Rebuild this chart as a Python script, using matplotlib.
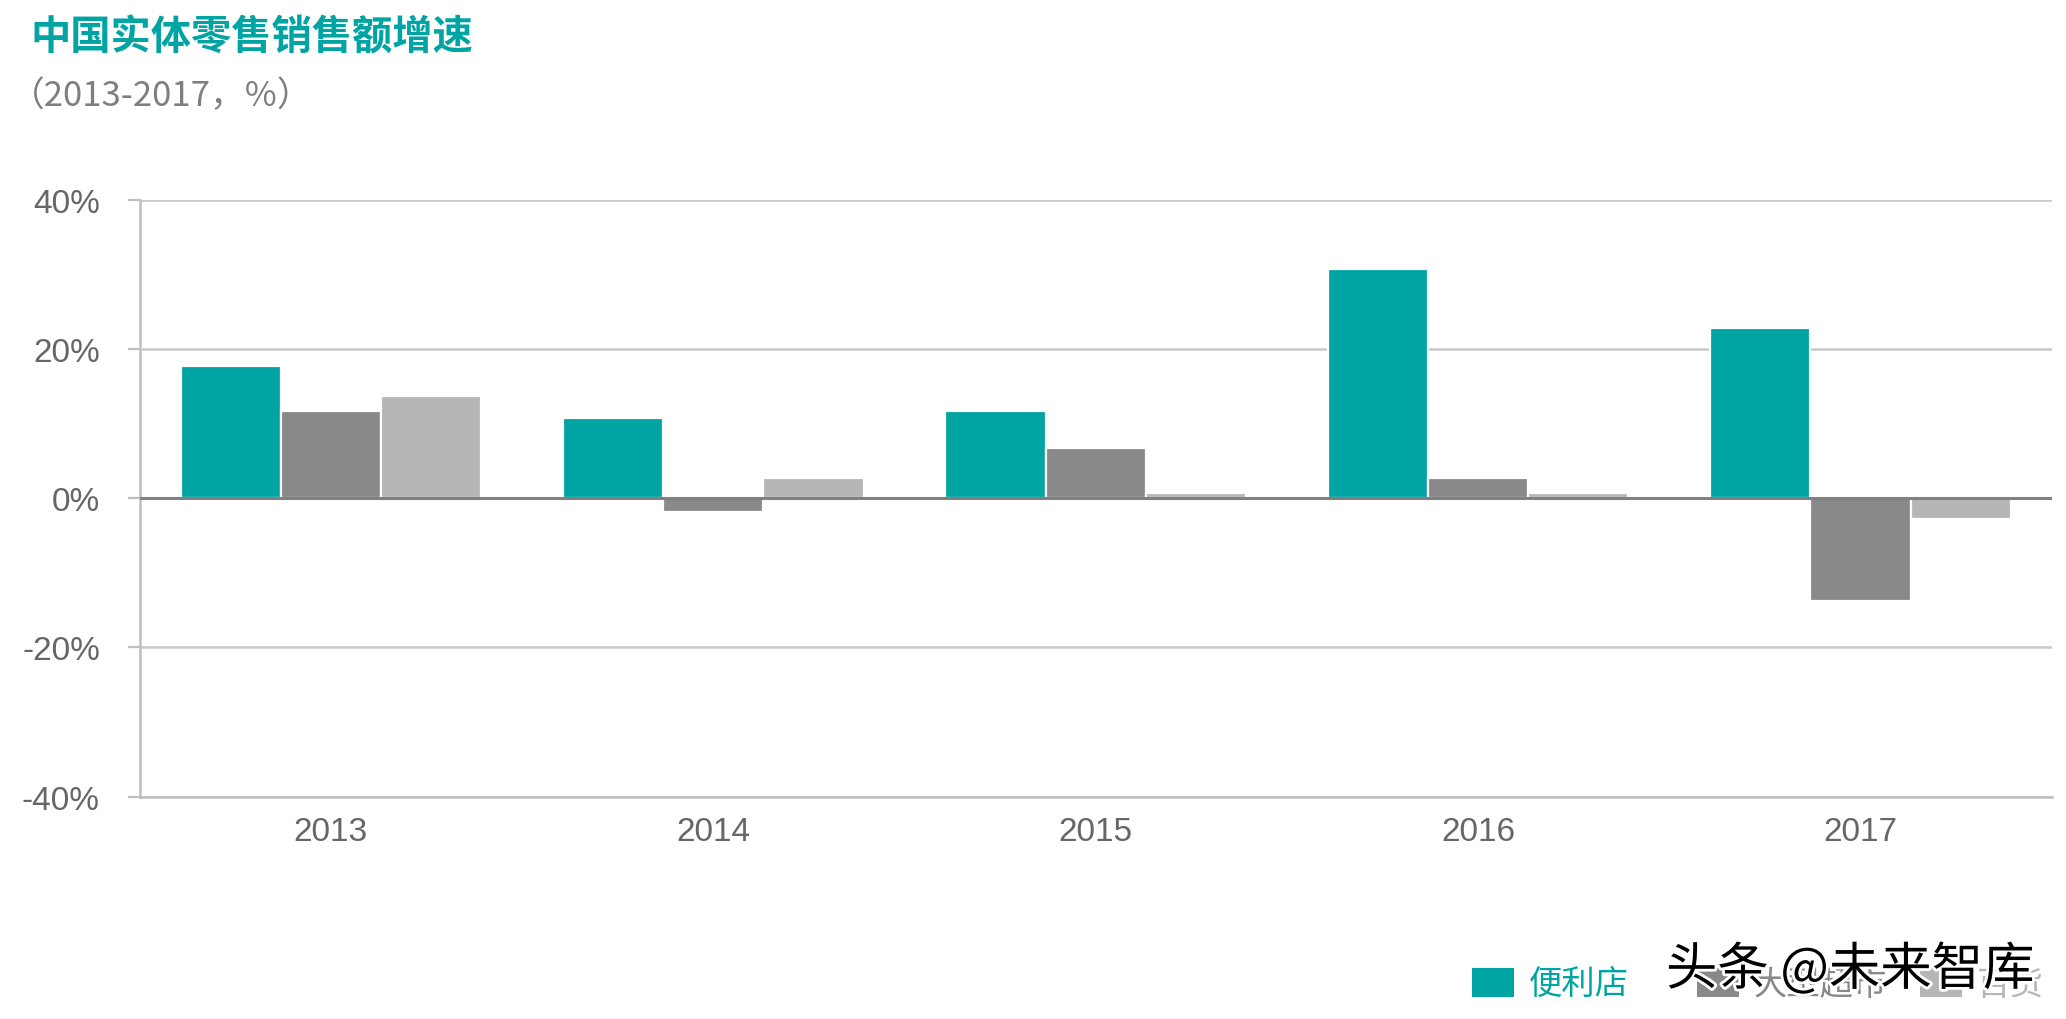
import numpy as np
import matplotlib
matplotlib.use("Agg")
import matplotlib.pyplot as plt
from matplotlib.patches import Patch
import matplotlib.patheffects as pe

# ---- data ----
years = ["2013", "2014", "2015", "2016", "2017"]
series_names = ["便利店", "大型超市", "百货"]
conv_store = [17.7, 10.7, 11.7, 30.7, 22.8]
hypermarket = [11.7, -1.8, 6.7, 2.7, -13.8]
dept_store = [13.7, 2.7, 0.7, 0.7, -2.8]
y_ticks = [-40, -20, 0, 20, 40]
y_tick_labels = ["-40%", "-20%", "0%", "20%", "40%"]

title = "中国实体零售销售额增速"
subtitle = "（2013-2017，%）"
watermark = "头条 @未来智库"

colors = ["#00A5A3", "#898989", "#B5B6B5"]
CJK = ["Noto Sans CJK SC", "DejaVu Sans"]
LAT = ["Liberation Sans", "DejaVu Sans"]

fig = plt.figure(figsize=(20.66, 10.20), dpi=100)
ax = fig.add_axes([0.0676, 0.218, 0.9255, 0.585])

x = np.arange(len(years))
w = 0.262
for i, vals in enumerate([conv_store, hypermarket, dept_store]):
    ax.bar(x + (i - 1) * w, vals, width=w, color=colors[i],
           edgecolor="white", linewidth=1.6, zorder=3, label=series_names[i])

ax.set_xlim(-0.5, len(years) - 0.5)
ax.set_ylim(-40, 40)

# grid + zero line
ax.set_yticks(y_ticks)
ax.set_yticklabels(y_tick_labels)
ax.yaxis.grid(True, color="#C9C9C9", linewidth=1.8, zorder=1)
ax.set_axisbelow(True)
ax.axhline(0, color="#808080", linewidth=2.2, zorder=4)

ax.set_xticks(x)
ax.set_xticklabels(years)

for lab in ax.get_xticklabels() + ax.get_yticklabels():
    lab.set_family(LAT)
    lab.set_fontsize(24)
    lab.set_color("#666666")

ax.tick_params(axis="x", length=0, pad=14)
ax.tick_params(axis="y", length=8.6, width=1.6, color="#BFBFBF", pad=20)

for s in ["top", "right"]:
    ax.spines[s].set_visible(False)
for s in ["left", "bottom"]:
    ax.spines[s].set_color("#BFBFBF")
    ax.spines[s].set_linewidth(1.8)

# title / subtitle
fig.text(0.0145, 0.963, title, family=CJK, fontsize=29, fontweight="bold",
         color="#00A5A3", ha="left", va="center")
fig.text(0.005, 0.905, subtitle, family=CJK, fontsize=25, fontweight="light",
         color="#7F7F7F", ha="left", va="center")

# legend: equal-width slots, one entry each
slot_x = [0.7124, 0.8214, 0.9292]
for name, c, sx in zip(series_names, colors, slot_x):
    leg = fig.legend([Patch(facecolor=c, edgecolor="none")], [name],
                     loc="center left", bbox_to_anchor=(sx, 0.034),
                     frameon=False, prop={"family": CJK, "size": 24},
                     handlelength=1.26, handleheight=0.96, handletextpad=0.45,
                     borderpad=0, borderaxespad=0)
    leg.get_texts()[0].set_color(c)

# watermark
fig.text(0.8955, 0.048, watermark, family=CJK, fontsize=37, color="black",
         ha="center", va="center", zorder=10,
         path_effects=[pe.withStroke(linewidth=4, foreground="white")])

fig.savefig("out.png", dpi=100)
